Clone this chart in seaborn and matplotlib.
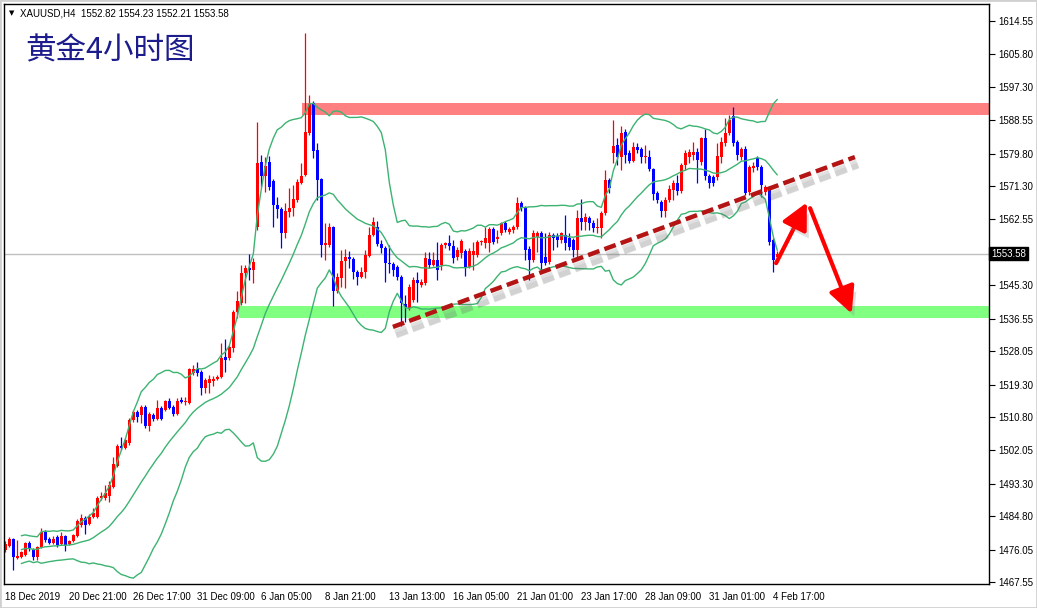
import numpy as np
import pandas as pd
import matplotlib
matplotlib.use("Agg")
import matplotlib.pyplot as plt
import matplotlib.patheffects as pe
import matplotlib.transforms as mtransforms
from matplotlib.patches import Rectangle, FancyArrowPatch, ArrowStyle
import seaborn as sns

sns.set_theme(style="white")
plt.rcParams['font.family'] = ['Liberation Sans', 'DejaVu Sans']

# ---------------- data (XAUUSD H4) ----------------
opens = [
    1476.0, 1477.0, 1478.8, 1473.8, 1474.1, 1474.6, 1477.8, 1476.2, 1474.1, 1476.7,
    1480.7, 1478.8, 1477.8, 1479.4, 1477.5, 1479.6, 1477.5, 1478.3, 1479.6, 1482.5,
    1484.3, 1482.8, 1484.6, 1484.6, 1489.6, 1489.6, 1490.1, 1492.5, 1497.9, 1503.2,
    1502.7, 1504.0, 1510.0, 1512.1, 1511.3, 1513.4, 1508.4, 1511.3, 1510.3, 1513.2,
    1512.6, 1515.0, 1513.4, 1511.6, 1515.3, 1514.7, 1514.5, 1522.3, 1523.4, 1522.6,
    1518.4, 1519.7, 1520.2, 1520.8, 1521.3, 1526.5, 1526.3, 1528.9, 1538.3, 1540.6,
    1548.5, 1549.8, 1549.3, 1560.6, 1577.6, 1574.0, 1577.6, 1572.6, 1566.3, 1565.3,
    1559.0, 1564.5, 1565.6, 1567.7, 1572.1, 1574.2, 1585.2, 1593.1, 1580.8, 1573.2,
    1555.9, 1555.9, 1560.6, 1543.8, 1547.2, 1551.7, 1552.7, 1552.2, 1548.8, 1547.5,
    1548.8, 1553.0, 1558.5, 1560.6, 1556.1, 1555.1, 1551.1, 1550.9, 1550.1, 1547.5,
    1540.4, 1539.4, 1541.5, 1546.7, 1545.4, 1545.9, 1552.2, 1550.6, 1551.9, 1550.6,
    1555.9, 1556.4, 1555.6, 1552.7, 1553.8, 1554.3, 1550.1, 1553.2, 1553.2, 1556.6,
    1556.4, 1556.4, 1560.1, 1557.4, 1559.0, 1561.6, 1559.3, 1559.8, 1560.6, 1566.9,
    1565.6, 1554.8, 1551.9, 1557.9, 1559.0, 1552.7, 1551.4, 1558.5, 1558.2, 1557.2,
    1558.5, 1557.7, 1557.2, 1554.6, 1562.9, 1561.9, 1562.9, 1561.6, 1560.3, 1560.3,
    1564.2, 1572.9, 1580.0, 1582.1, 1578.9, 1585.5, 1580.0, 1577.9, 1581.5, 1581.0,
    1578.9, 1578.9, 1575.8, 1569.5, 1567.1, 1564.8, 1567.7, 1570.3, 1572.1, 1570.0,
    1576.8, 1578.9, 1579.4, 1580.2, 1577.6, 1583.9, 1574.0, 1573.7, 1573.7, 1578.9,
    1582.6, 1585.2, 1589.6, 1582.8, 1578.9, 1581.0, 1569.7, 1576.0, 1578.7, 1576.3,
    1569.7, 1570.8, 1557.2, 1552.82,
]
highs = [
    1478.3, 1479.4, 1479.1, 1478.6, 1475.7, 1478.0, 1478.3, 1476.5, 1477.0, 1481.7,
    1481.2, 1479.4, 1479.6, 1479.9, 1480.7, 1479.9, 1478.6, 1480.1, 1484.1, 1485.4,
    1484.9, 1485.4, 1487.0, 1490.1, 1491.1, 1493.0, 1494.0, 1500.3, 1503.7, 1505.6,
    1505.3, 1510.5, 1512.6, 1512.6, 1513.9, 1513.9, 1512.1, 1511.8, 1515.3, 1513.7,
    1515.3, 1515.8, 1513.9, 1515.8, 1516.0, 1516.0, 1523.6, 1524.4, 1525.2, 1523.1,
    1521.0, 1521.8, 1521.5, 1521.8, 1530.2, 1531.2, 1529.7, 1538.8, 1543.8, 1550.6,
    1550.6, 1553.5, 1552.5, 1588.1, 1579.4, 1578.9, 1579.2, 1573.1, 1568.4, 1565.8,
    1566.9, 1570.8, 1571.6, 1573.1, 1577.3, 1611.4, 1595.2, 1593.6, 1582.6, 1573.4,
    1561.6, 1561.6, 1560.8, 1548.5, 1554.6, 1554.8, 1554.3, 1552.7, 1549.3, 1550.1,
    1554.6, 1560.6, 1563.2, 1562.1, 1557.2, 1555.6, 1555.9, 1551.4, 1550.6, 1548.0,
    1542.8, 1545.6, 1547.5, 1548.8, 1547.0, 1554.0, 1554.0, 1554.0, 1556.6, 1556.4,
    1556.6, 1558.5, 1557.2, 1555.3, 1557.4, 1554.8, 1555.1, 1556.6, 1557.2, 1557.2,
    1560.6, 1560.6, 1560.6, 1559.8, 1561.9, 1562.1, 1560.6, 1561.1, 1568.4, 1567.4,
    1566.1, 1555.6, 1559.8, 1559.5, 1559.5, 1559.0, 1559.3, 1559.0, 1559.0, 1559.3,
    1563.7, 1559.0, 1557.7, 1565.0, 1567.9, 1564.2, 1563.5, 1562.4, 1562.9, 1564.8,
    1575.5, 1573.4, 1588.6, 1583.9, 1587.1, 1586.3, 1580.8, 1582.9, 1582.6, 1581.5,
    1582.1, 1580.8, 1576.0, 1570.0, 1567.7, 1568.4, 1571.6, 1572.9, 1574.2, 1577.3,
    1580.8, 1581.0, 1582.9, 1581.3, 1584.2, 1586.3, 1574.5, 1574.2, 1582.6, 1584.2,
    1589.1, 1589.9, 1592.0, 1583.4, 1581.5, 1581.8, 1576.8, 1577.6, 1579.2, 1576.8,
    1571.6, 1571.3, 1557.7, 1554.23,
]
lows = [
    1475.4, 1476.7, 1470.7, 1473.6, 1473.8, 1474.4, 1475.7, 1473.3, 1473.3, 1476.5,
    1478.0, 1477.5, 1477.5, 1476.7, 1477.2, 1475.7, 1477.2, 1478.0, 1479.4, 1482.0,
    1480.1, 1482.5, 1484.3, 1484.3, 1489.1, 1489.1, 1488.5, 1492.2, 1497.7, 1502.2,
    1502.4, 1503.5, 1509.5, 1509.5, 1509.2, 1507.9, 1507.1, 1509.7, 1510.0, 1510.0,
    1512.4, 1512.9, 1511.0, 1511.3, 1514.5, 1514.0, 1514.2, 1521.8, 1521.5, 1516.6,
    1517.1, 1517.1, 1518.9, 1520.5, 1521.0, 1522.6, 1525.7, 1527.8, 1536.7, 1540.1,
    1540.6, 1546.7, 1545.9, 1559.8, 1571.1, 1569.8, 1570.3, 1560.6, 1562.9, 1555.1,
    1557.7, 1563.2, 1563.5, 1567.1, 1571.8, 1574.0, 1584.7, 1578.7, 1567.7, 1552.7,
    1551.9, 1555.3, 1539.9, 1543.3, 1544.9, 1544.6, 1549.8, 1547.0, 1545.4, 1547.2,
    1547.2, 1552.7, 1558.2, 1555.6, 1553.8, 1546.2, 1548.5, 1547.7, 1546.7, 1534.6,
    1535.7, 1538.8, 1540.9, 1540.9, 1544.9, 1545.4, 1549.8, 1550.4, 1546.7, 1549.3,
    1555.1, 1554.6, 1551.2, 1551.9, 1552.5, 1547.7, 1549.8, 1549.3, 1552.7, 1555.9,
    1555.1, 1554.0, 1556.1, 1556.4, 1558.5, 1559.3, 1558.7, 1559.0, 1560.1, 1564.8,
    1551.9, 1546.7, 1551.4, 1554.0, 1549.3, 1550.6, 1550.9, 1554.6, 1555.3, 1556.4,
    1554.6, 1554.6, 1552.7, 1552.7, 1559.8, 1559.8, 1559.8, 1559.3, 1559.0, 1557.7,
    1563.7, 1569.5, 1577.3, 1576.8, 1575.5, 1577.3, 1577.3, 1577.6, 1580.0, 1577.3,
    1577.3, 1575.2, 1567.7, 1566.9, 1563.2, 1563.2, 1567.1, 1567.7, 1569.0, 1569.5,
    1575.5, 1577.3, 1578.1, 1572.1, 1576.8, 1572.9, 1570.8, 1571.3, 1572.9, 1577.3,
    1581.8, 1584.7, 1581.8, 1578.1, 1578.1, 1569.0, 1569.0, 1575.0, 1575.5, 1568.4,
    1569.0, 1555.9, 1548.8, 1552.21,
]
closes = [
    1477.5, 1478.8, 1474.1, 1474.4, 1475.4, 1477.8, 1476.5, 1474.1, 1476.7, 1480.7,
    1478.6, 1477.8, 1478.8, 1477.2, 1479.6, 1477.2, 1478.3, 1479.9, 1483.5, 1484.3,
    1482.5, 1484.6, 1485.6, 1489.6, 1490.1, 1490.9, 1493.0, 1498.5, 1503.2, 1502.7,
    1504.8, 1510.0, 1512.1, 1510.8, 1513.4, 1508.4, 1511.6, 1510.3, 1513.2, 1510.3,
    1515.0, 1513.2, 1511.6, 1515.0, 1514.7, 1515.0, 1523.4, 1523.4, 1522.3, 1518.4,
    1520.5, 1520.8, 1520.8, 1521.3, 1526.3, 1525.7, 1529.1, 1538.3, 1541.2, 1548.5,
    1549.8, 1549.3, 1551.4, 1577.3, 1574.0, 1576.6, 1571.1, 1566.3, 1565.3, 1559.0,
    1564.8, 1565.6, 1567.9, 1572.4, 1574.0, 1585.5, 1592.8, 1580.5, 1572.9, 1555.9,
    1556.4, 1560.6, 1543.8, 1547.5, 1551.7, 1552.7, 1552.2, 1548.8, 1547.5, 1548.8,
    1553.2, 1558.5, 1561.9, 1556.1, 1555.1, 1551.1, 1550.9, 1549.3, 1547.5, 1540.6,
    1539.6, 1544.9, 1546.7, 1545.9, 1546.2, 1552.5, 1550.6, 1551.9, 1549.3, 1555.9,
    1556.4, 1555.6, 1552.5, 1554.6, 1556.9, 1550.1, 1554.3, 1554.3, 1556.6, 1556.9,
    1557.7, 1560.1, 1556.6, 1557.9, 1561.6, 1559.8, 1560.1, 1560.6, 1566.9, 1565.6,
    1554.6, 1551.9, 1559.0, 1559.0, 1551.1, 1551.1, 1558.5, 1557.7, 1557.2, 1559.0,
    1556.4, 1555.3, 1554.6, 1562.9, 1561.9, 1563.2, 1561.6, 1560.3, 1560.6, 1564.2,
    1572.9, 1570.8, 1581.8, 1578.9, 1585.2, 1579.4, 1577.9, 1581.5, 1580.8, 1578.9,
    1579.2, 1575.8, 1569.2, 1567.7, 1564.8, 1567.7, 1570.5, 1572.1, 1570.0, 1576.8,
    1580.0, 1580.2, 1580.2, 1578.1, 1583.9, 1574.0, 1572.1, 1572.1, 1579.2, 1582.8,
    1585.2, 1588.6, 1582.6, 1579.4, 1581.0, 1569.5, 1576.3, 1576.6, 1576.3, 1571.6,
    1571.1, 1556.6, 1552.0, 1553.58,
]

date_labels = ["18 Dec 2019", "20 Dec 21:00", "26 Dec 17:00", "31 Dec 09:00",
               "6 Jan 05:00", "8 Jan 21:00", "13 Jan 13:00", "16 Jan 05:00",
               "21 Jan 01:00", "23 Jan 17:00", "28 Jan 09:00", "31 Jan 01:00",
               "4 Feb 17:00"]
date_label_bars = [0, 16, 32, 48, 64, 80, 96, 112, 128, 144, 160, 176, 192]

price_ticks = [1614.55, 1605.80, 1597.30, 1588.55, 1579.80, 1571.30, 1562.55,
               1545.30, 1536.55, 1528.05, 1519.30, 1510.80, 1502.05, 1493.30,
               1484.80, 1476.05, 1467.55]
last_price = 1553.58

# resistance / support zones: (start bar, low price, high price)
resistance_zone = (74.2, 1589.9, 1593.1)
support_zone = (58.3, 1536.7, 1539.9)
# trend line (bar, price) endpoints
trend_pts = [(96.9, 1534.4), (212.4, 1578.9)]
# projected path arrows
arrow_up = [(192.7, 1551.1), (200.4, 1567.0)]
arrow_down = [(201.2, 1565.5), (211.6, 1537.9)]

# ---------------- figure ----------------
W, H = 1037, 608
fig = plt.figure(figsize=(W / 100, H / 100), dpi=100, facecolor="white")
ax_l, ax_r, ax_t, ax_b = 3.5, 988.5, 4, 584
ax = fig.add_axes([ax_l / W, (H - ax_b) / H, (ax_r - ax_l) / W, (ax_b - ax_t) / H])
ax.set_facecolor("white")

n = len(closes)
idx = np.arange(n)
df = pd.DataFrame({"bar": idx, "open": opens, "high": highs, "low": lows, "close": closes})

# Bollinger bands (20, 2)
roll = df["close"].rolling(20, min_periods=5)
df["mid"] = roll.mean()
df["std"] = roll.std(ddof=0)
df["upper"] = df["mid"] + 2 * df["std"]
df["lower"] = df["mid"] - 2 * df["std"]

xmax = 245.8
# zones
for (x0, lo, hi), col in [(resistance_zone, "#ff8080"), (support_zone, "#80ff80")]:
    ax.add_patch(Rectangle((x0, lo), xmax - x0, hi - lo, facecolor=col,
                           edgecolor="none", zorder=1))

ax.axhline(last_price, color="#c0c0c0", lw=1, zorder=1.2)

# candles
up = df["close"] >= df["open"]
colors = np.where(up, "#ff0000", "#0000ff")
ax.vlines(df["bar"], df["low"], df["high"], colors=colors, lw=0.9, zorder=2)
body_lo = np.minimum(df["open"], df["close"])
body_h = np.maximum(np.abs(df["close"] - df["open"]), 0.3)
ax.bar(df["bar"], body_h, bottom=body_lo, width=0.72, color=colors,
       linewidth=0, zorder=2.1)

band_col = "#3cb371"
for col in ["upper", "mid", "lower"]:
    sns.lineplot(data=df, x="bar", y=col, ax=ax, color=band_col, lw=1,
                 zorder=3, legend=False)

# soft shadow layers
line_shadow = [pe.SimpleLineShadow(offset=(1.5, -4), shadow_color="#707070", alpha=0.10, linewidth=9),
               pe.SimpleLineShadow(offset=(2, -5), shadow_color="#707070", alpha=0.12, linewidth=6),
               pe.SimpleLineShadow(offset=(2.5, -6), shadow_color="#707070", alpha=0.12, linewidth=4),
               pe.Normal()]

# trend line with shadow
(tx0, ty0), (tx1, ty1) = trend_pts
ax.plot([tx0, tx1], [ty0, ty1], color="#b41414", lw=3.2, dashes=(2.7, 1.2),
        dash_capstyle="butt", zorder=5, path_effects=line_shadow)

for (a, b) in [arrow_up, arrow_down]:
    arr = FancyArrowPatch(a, b, arrowstyle=ArrowStyle("-|>", head_length=1.6, head_width=0.8),
                          mutation_scale=10, color="#ff0000", lw=3.0,
                          shrinkA=0, shrinkB=0, zorder=6,
                          path_effects=[pe.withSimplePatchShadow(offset=(3, -5),
                                                                 shadow_rgbFace="#808080",
                                                                 alpha=0.25)])
    ax.add_patch(arr)

# axes limits
ax.set_xlim(-0.45, xmax)
ax.set_ylim(1467.04, 1619.0)
ax.set_xlabel("")
ax.set_ylabel("")

# ticks
ax.yaxis.tick_right()
ax.set_yticks(price_ticks)
ax.set_yticklabels([f"{p:.2f}" for p in price_ticks])
ax.set_xticks(date_label_bars)
ax.set_xticklabels(date_labels, ha="left")
ax.tick_params(axis="both", which="major", direction="out", length=4, width=0.8,
               color="black", labelsize=7, labelcolor="black", pad=2)
ax.tick_params(axis="y", pad=3)
for s in ax.spines.values():
    s.set_color("black")
    s.set_linewidth(1)
    s.set_visible(True)
ax.grid(False)

# current price box
trans = mtransforms.blended_transform_factory(ax.transAxes, ax.transData)
ax.text(1.0025, last_price, f"{last_price:.2f}", transform=trans, ha="left", va="center",
        fontsize=7, color="white", zorder=10, clip_on=False,
        bbox=dict(boxstyle="square,pad=0.18", fc="black", ec="black"))

# header texts
fig.text(9 / W, 1 - 13 / H, "▼", fontsize=5, va="center", ha="left", color="black",
         family=["DejaVu Sans"])
fig.text(20 / W, 1 - 13 / H, "XAUUSD,H4  1552.82 1554.23 1552.21 1553.58",
         fontsize=7, va="center", ha="left", color="black")
fig.text(25 / W, 1 - 51 / H, "黄金4小时图", fontsize=22, va="center", ha="left",
         color="#1c1c8c", family=["Noto Sans CJK SC", "DejaVu Sans"])

fig.patches.append(Rectangle((0, 0), 1, 1, transform=fig.transFigure, fill=False,
                             ec="#d0d0d0", lw=2))

fig.savefig("out.png", dpi=100, facecolor="white")
